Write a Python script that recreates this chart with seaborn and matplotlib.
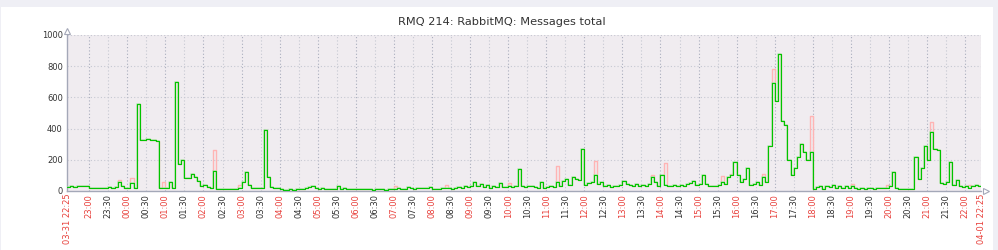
import numpy as np
import pandas as pd
import matplotlib
matplotlib.use("Agg")
import matplotlib.pyplot as plt
import seaborn as sns
from matplotlib.patches import Rectangle

# ---------------- data (5-minute samples, 03-31 22:25 .. 04-01 22:25) -------------
step_minutes = 5
messages_avg = [
    28, 30, 27, 32, 30, 35, 33, 22, 18, 20, 17, 22,
    20, 24, 18, 28, 60, 30, 20, 22, 50, 22, 560, 330,
    325, 335, 330, 328, 322, 20, 18, 22, 60, 20, 700, 170,
    200, 85, 84, 110, 92, 62, 30, 38, 25, 22, 130, 15,
    12, 10, 12, 15, 10, 12, 20, 55, 125, 40, 20, 22,
    20, 22, 390, 90, 25, 20, 18, 15, 8, 6, 10, 8,
    10, 12, 10, 20, 25, 30, 22, 15, 18, 12, 15, 10,
    12, 30, 15, 18, 12, 10, 15, 12, 10, 12, 15, 10,
    8, 10, 12, 10, 8, 12, 10, 15, 20, 12, 15, 25,
    20, 15, 18, 22, 18, 20, 25, 12, 10, 15, 20, 18,
    22, 15, 20, 25, 18, 30, 25, 30, 55, 30, 48, 25,
    40, 20, 30, 25, 50, 25, 28, 35, 25, 30, 140, 35,
    28, 35, 30, 25, 20, 55, 20, 25, 30, 25, 60, 30,
    65, 75, 40, 90, 80, 70, 270, 40, 50, 55, 100, 45,
    60, 30, 40, 25, 35, 30, 40, 65, 45, 40, 35, 45,
    35, 40, 30, 45, 90, 60, 35, 100, 40, 30, 35, 40,
    35, 40, 30, 45, 50, 65, 40, 45, 100, 45, 35, 30,
    35, 40, 60, 45, 90, 100, 185, 100, 55, 80, 145, 40,
    45, 60, 40, 90, 60, 290, 690, 580, 880, 450, 420, 200,
    100, 150, 220, 300, 250, 200, 250, 15, 25, 30, 15, 35,
    25, 40, 20, 30, 20, 35, 20, 30, 18, 15, 20, 15,
    18, 20, 15, 18, 22, 18, 20, 30, 125, 20, 15, 10,
    12, 10, 12, 215, 80, 150, 290, 200, 380, 270, 260, 50,
    45, 60, 185, 40, 70, 35, 25, 30, 20, 30, 40, 30, 35,
]
# sample indices where the max value rose above the average
peak_index = [16, 20, 30, 46, 54, 103, 119, 139, 154, 166, 168, 184, 188,
              206, 209, 219, 222, 234, 247, 258, 272, 284, 286]
peak_max = [70, 85, 55, 260, 40, 30, 40, 50, 160, 190, 60, 100, 180,
            95, 110, 110, 780, 480, 45, 40, 440, 40, 35]

tick_minutes = [0] + list(range(35, 1440, 30)) + [1440]
tick_labels = [
    "03-31 22:25", "23:00", "23:30", "00:00", "00:30", "01:00", "01:30", "02:00",
    "02:30", "03:00", "03:30", "04:00", "04:30", "05:00", "05:30", "06:00",
    "06:30", "07:00", "07:30", "08:00", "08:30", "09:00", "09:30", "10:00",
    "10:30", "11:00", "11:30", "12:00", "12:30", "13:00", "13:30", "14:00",
    "14:30", "15:00", "15:30", "16:00", "16:30", "17:00", "17:30", "18:00",
    "18:30", "19:00", "19:30", "20:00", "20:30", "21:00", "21:30", "22:00",
    "04-01 22:25",
]
y_ticks = [0, 200, 400, 600, 800, 1000]
title = "RMQ 214: RabbitMQ: Messages total"

# ---------------- build frame ----------------
minutes = np.arange(len(messages_avg)) * step_minutes
messages_max = list(messages_avg)
for i, v in zip(peak_index, peak_max):
    messages_max[i] = max(messages_max[i], v)
df = pd.DataFrame({"minute": minutes, "avg": messages_avg, "max": messages_max})

sns.set_theme(style="white")
plt.rcParams["font.family"] = ["DejaVu Sans"]

fig = plt.figure(figsize=(9.98, 2.5), dpi=100)
fig.patch.set_facecolor("#efeff5")
bg = Rectangle((1 / 998, 0), 992 / 998, 243 / 250, transform=fig.transFigure,
               facecolor="white", edgecolor="none", zorder=-10)
fig.add_artist(bg)

L, R, T, B = 67, 981, 35, 191
ax = fig.add_axes([L / 998, (250 - B) / 250, (R - L) / 998, (B - T) / 250])
ax.set_zorder(5)
ax.set_facecolor("#f0ecf0")

# grid
for m, lab in zip(tick_minutes[1:-1], tick_labels[1:-1]):
    hour = lab.endswith(":00")
    ax.axvline(m, color="#a9adbd" if hour else "#c6c8d2", lw=0.8,
               ls=(0, (1, 2)), zorder=1)
ax.axvline(1440, color="#c6c8d2", lw=0.8, ls=(0, (1, 2)), zorder=1)
for yv in y_ticks[1:]:
    ax.axhline(yv, color="#c6c8d2", lw=0.8, ls=(0, (1, 2)), zorder=1)

sns.lineplot(data=df, x="minute", y="max", ax=ax, color="#ffb4b4", lw=1.0,
             drawstyle="steps-post", estimator=None, zorder=2)
sns.lineplot(data=df, x="minute", y="avg", ax=ax, color="#8be68b", lw=1.3,
             drawstyle="steps-post", estimator=None, zorder=3, alpha=0.5)
sns.lineplot(data=df, x="minute", y="avg", ax=ax, color="#00c400", lw=0.8,
             drawstyle="steps-post", estimator=None, zorder=4)

ax.set_xlim(0, 1440)
ax.set_ylim(0, 1000)
ax.set_xlabel("")
ax.set_ylabel("")

ax.set_yticks(y_ticks)
ax.set_yticklabels([str(v) for v in y_ticks], fontsize=6, color="#333333")
ax.set_xticks(tick_minutes)
ax.set_xticklabels(tick_labels, rotation=90, fontsize=6)
for lab in ax.get_xticklabels():
    t = lab.get_text()
    lab.set_color("#e8413c" if (t.endswith(":00") or "-" in t) else "#333333")
ax.tick_params(axis="both", length=0, pad=3)
ax.tick_params(axis="x", pad=2)

for s in ["top", "right"]:
    ax.spines[s].set_visible(False)
for s in ["left", "bottom"]:
    ax.spines[s].set_color("#a4a8b8")
    ax.spines[s].set_linewidth(1.0)
    ax.spines[s].set_visible(True)

ax.plot([0], [1.027], marker="^", ms=4, mfc="white", mec="#a4a8b8", mew=0.8,
        transform=ax.transAxes, clip_on=False)
ax.plot([1.006], [0], marker=">", ms=4, mfc="white", mec="#a4a8b8", mew=0.8,
        transform=ax.transAxes, clip_on=False)

fig.text(0.503, 0.912, title, ha="center", va="center", fontsize=8.2, color="#333333")

fig.savefig("out.png", dpi=100, facecolor=fig.get_facecolor())
